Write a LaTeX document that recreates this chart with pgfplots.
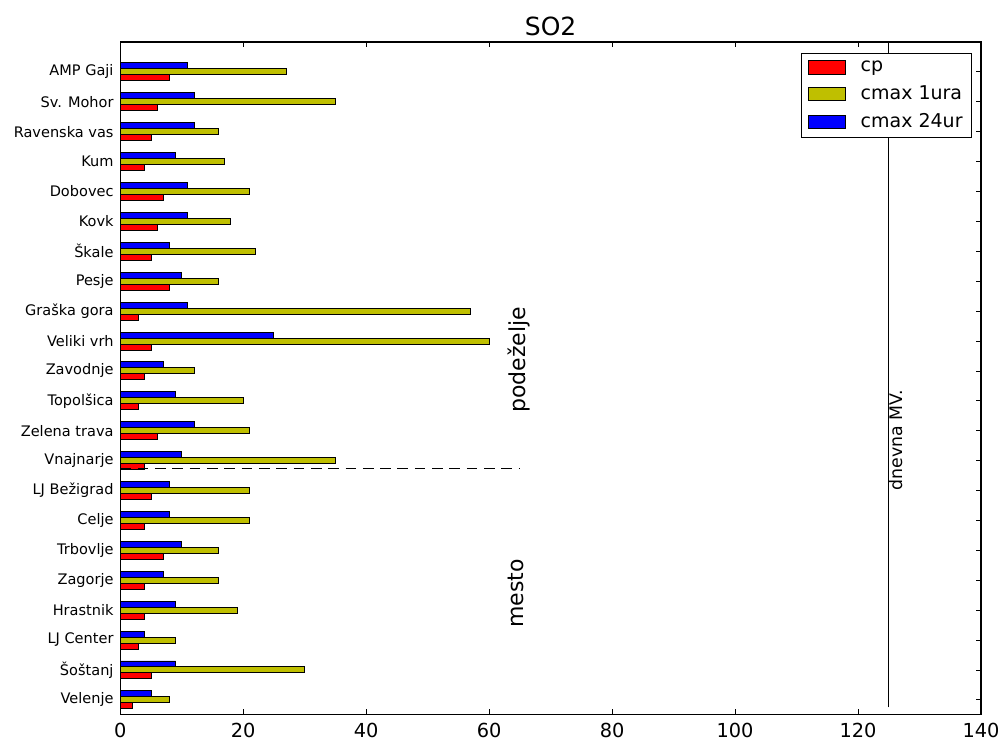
\documentclass[border=0pt]{standalone}
\usepackage{fontspec}
\setmainfont{DejaVu Sans}
\usepackage{pgfplots}
\pgfplotsset{compat=1.18}
\usepackage{pgfplotstable}

% stations from bottom (0) to top (21)
\pgfplotstableread{
idx cp c1 c24
0  2  8  5
1  5 30  9
2  3  9  4
3  4 19  9
4  4 16  7
5  7 16 10
6  4 21  8
7  5 21  8
8  4 35 10
9  6 21 12
10 3 20  9
11 4 12  7
12 5 60 25
13 3 57 11
14 8 16 10
15 5 22  8
16 6 18 11
17 7 21 11
18 4 17  9
19 5 16 12
20 6 35 12
21 8 27 11
}\sotable

\definecolor{mplyellow}{rgb}{0.75,0.75,0}
\pgfplotsset{swatch/.style={legend image code/.code={\draw[##1] (0pt,-5pt) rectangle (28pt,5pt);}}}

\begin{document}
\begin{tikzpicture}
\useasboundingbox (-90.2pt,-20.25pt) rectangle (660pt,536.25pt);
\begin{axis}[
  scale only axis, width=645.75pt, height=504.75pt,
  at={(0pt,0pt)}, anchor=south west,
  xmin=0, xmax=140, ymin=-0.5, ymax=22,
  xtick={0,20,...,140},
  ytick={0,...,21},
  yticklabels={Velenje,Šoštanj,LJ Center,Hrastnik,Zagorje,Trbovlje,Celje,LJ Bežigrad,Vnajnarje,Zelena trava,Topolšica,Zavodnje,Veliki vrh,Graška gora,Pesje,Škale,Kovk,Dobovec,Kum,Ravenska vas,Sv. Mohor,AMP Gaji},
  tick align=inside, tick pos=both,
  major tick length=4pt,
  axis line style={line width=0.9pt},
  every tick/.style={black, line width=0.6pt},
  /pgf/number format/assume math mode=true,
  xticklabel style={font=\fontsize{14.5}{16}\selectfont, yshift=-2.5pt},
  yticklabel style={font=\fontsize{10.9}{12}\selectfont, xshift=-1.5pt},
  title={SO2},
  title style={font=\fontsize{18.75}{20}\selectfont, yshift=-5pt},
  bar width=0.2,
  legend style={at={(0.99,0.984)}, anchor=north east, draw=black, line width=0.75pt,
    font=\fontsize{14.25}{16}\selectfont, row sep=5pt, inner xsep=5pt, inner ysep=4pt,
    /tikz/every odd column/.append style={column sep=9pt}},
  legend cell align=left,
]
\addplot[xbar, bar shift=-0.2, fill=red, draw=black, line width=0.7pt, swatch] table[x=cp, y=idx] {\sotable};
\addlegendentry{cp}
\addplot[xbar, bar shift=0, fill=mplyellow, draw=black, line width=0.7pt, swatch] table[x=c1, y=idx] {\sotable};
\addlegendentry{cmax 1ura}
\addplot[xbar, bar shift=0.2, fill=blue, draw=black, line width=0.7pt, swatch] table[x=c24, y=idx] {\sotable};
\addlegendentry{cmax 24ur}

\addplot[forget plot, black, line width=0.75pt, dash pattern=on 8pt off 5pt] coordinates {(0,7.75) (65,7.75)};
\addplot[forget plot, black, line width=0.75pt] coordinates {(125,-0.25) (125,22)};

\node[rotate=90, anchor=north west, inner sep=0pt, font=\fontsize{16.5}{18}\selectfont] at (axis cs:63,9.6) {podeželje};
\node[rotate=90, anchor=north west, inner sep=0pt, font=\fontsize{16.5}{18}\selectfont] at (axis cs:63,2.4) {mesto};
\node[rotate=90, anchor=north west, inner sep=0pt, font=\fontsize{13}{14}\selectfont] at (axis cs:125,7) {dnevna MV.};
\end{axis}
\end{tikzpicture}
\end{document}
